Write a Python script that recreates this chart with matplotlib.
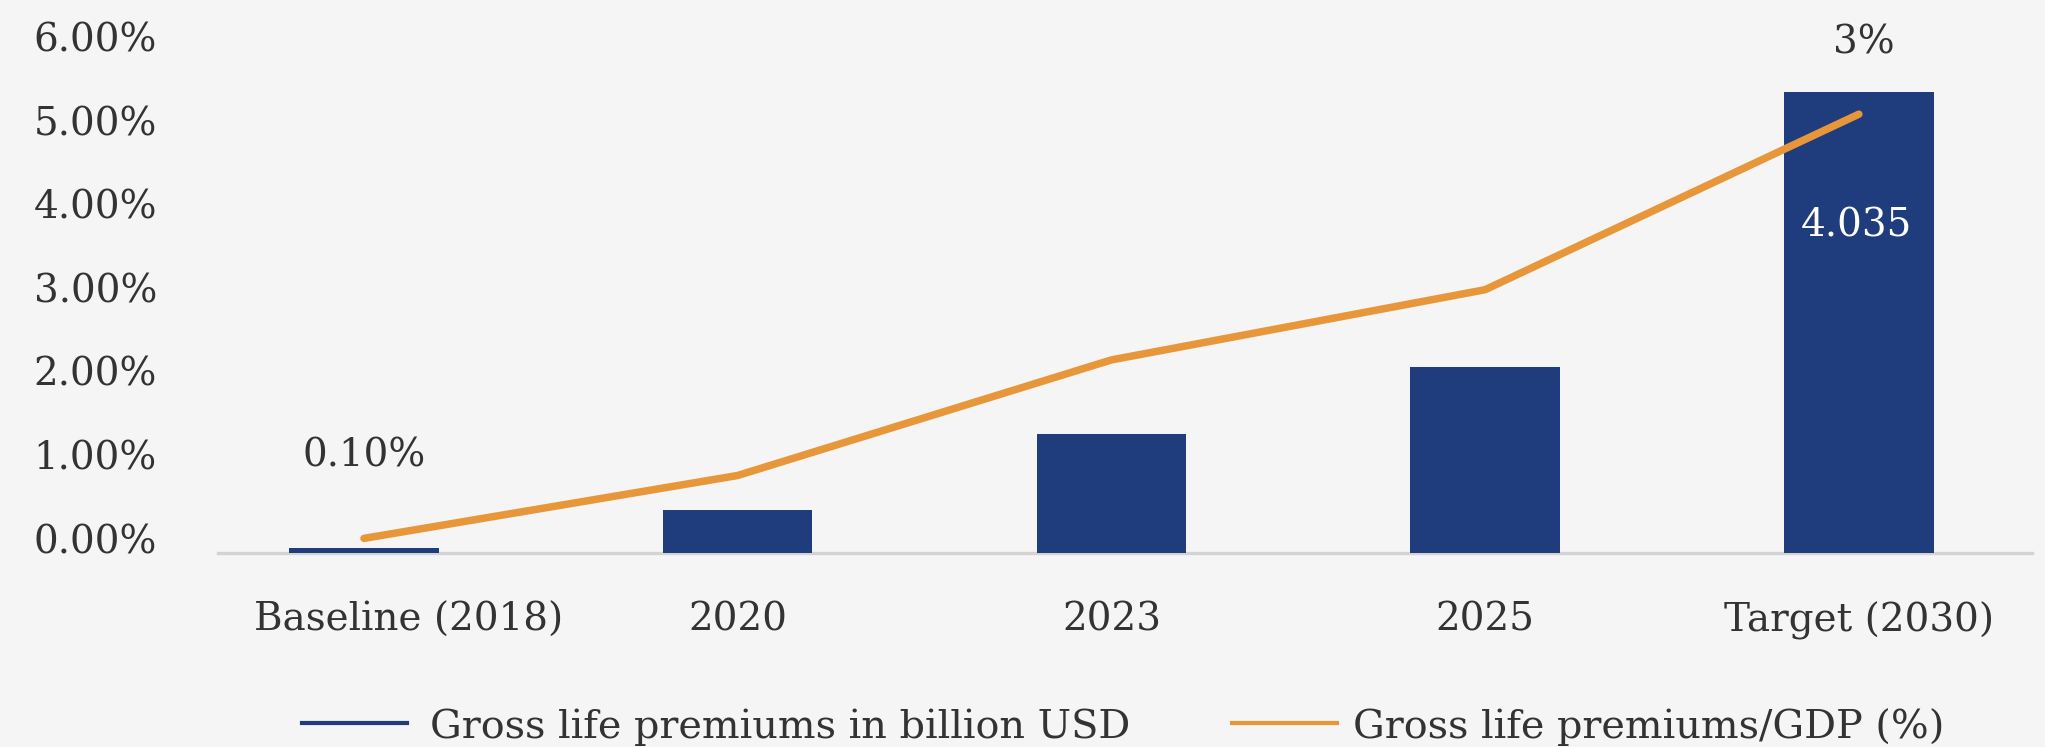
import matplotlib
matplotlib.use("Agg")
import matplotlib.pyplot as plt
from matplotlib.lines import Line2D
from matplotlib.transforms import ScaledTranslation

# ---- data ----
categories = ["Baseline (2018)", "2020", "2023", "2025", "Target (2030)"]
premiums_busd = [0.048, 0.376, 1.042, 1.628, 4.035]      # gross life premiums, billion USD
premiums_gdp_pct = [0.10, 0.53, 1.32, 1.80, 3.00]        # gross life premiums / GDP, %
axis_ticks = [0, 1, 2, 3, 4, 5, 6]
axis_tick_labels = ["0.00%", "1.00%", "2.00%", "3.00%", "4.00%", "5.00%", "6.00%"]
series_names = ["Gross life premiums in billion USD", "Gross life premiums/GDP (%)"]

NAVY = "#1f3d7c"
ORANGE = "#e8963a"
TEXT = "#333333"
BG = "#f5f5f5"
FONT = "DejaVu Serif"
FS = 28

plt.rcParams["font.family"] = FONT

W, H = 2045, 747
fig = plt.figure(figsize=(W / 100, H / 100), dpi=100, facecolor=BG)
ax = fig.add_axes([0.1066, 0.2597, 0.887, 0.6707])
ax.set_facecolor("none")

x = list(range(len(categories)))
ax.set_xlim(-0.3906, 4.463)
ax.set_ylim(0, 6)

# visible percentage scale
ax.set_yticks(axis_ticks)
ax.set_yticklabels(axis_tick_labels, fontsize=FS, color=TEXT)
for lbl in ax.get_yticklabels():
    lbl.set_va("baseline")
    lbl.set_transform(lbl.get_transform() + ScaledTranslation(0, -0.05, fig.dpi_scale_trans))
ax.tick_params(axis="y", length=0, pad=44)

ax.set_xticks(x)
ax.set_xticklabels(categories, fontsize=FS, color=TEXT)
ax.tick_params(axis="x", length=0, pad=35)
first = ax.get_xticklabels()[0]
first.set_transform(first.get_transform() + ScaledTranslation(0.45, 0, fig.dpi_scale_trans))

for side in ("top", "right", "left"):
    ax.spines[side].set_visible(False)
ax.spines["bottom"].set_color("#d3d3d3")
ax.spines["bottom"].set_linewidth(2.4)

# bars on their own scale
axb = ax.twinx()
axb.set_xlim(ax.get_xlim())
axb.set_ylim(0, 4.385)
axb.bar(x, premiums_busd, width=0.40, color=NAVY, zorder=2)
axb.set_axis_off()

# premium/GDP line on its own scale
axl = ax.twinx()
axl.set_xlim(ax.get_xlim())
axl.set_ylim(0, 3.425)
axl.plot(x, premiums_gdp_pct, color=ORANGE, lw=5.4, solid_capstyle="round",
         solid_joinstyle="round", zorder=3)
axl.set_axis_off()

# data labels
axl.annotate(f"{premiums_gdp_pct[0]:.2f}%", (x[0], premiums_gdp_pct[0]),
             xytext=(0, 82), textcoords="offset pixels", ha="center", va="center",
             fontsize=FS, color=TEXT)
axl.annotate(f"{premiums_gdp_pct[-1]:.0f}%", (x[-1], premiums_gdp_pct[-1]),
             xytext=(5, 71), textcoords="offset pixels", ha="center", va="center",
             fontsize=FS, color=TEXT)
axb.annotate(f"{premiums_busd[-1]:.3f}", (x[-1], premiums_busd[-1]),
             xytext=(-2, -134), textcoords="offset pixels", ha="center", va="center",
             fontsize=FS, color="white")

# legend, laid out in figure pixels
legend_y = (H - 723) / H
legend_items = [(302, 407, 430, NAVY), (1232, 1337, 1353, ORANGE)]
for name, (x0, x1, tx, col) in zip(series_names, legend_items):
    fig.add_artist(Line2D([x0 / W, x1 / W], [legend_y, legend_y], color=col, lw=3,
                          transform=fig.transFigure))
    fig.text(tx / W, legend_y, name, fontsize=28.6, color=TEXT, ha="left", va="center_baseline")

fig.savefig("out.png", dpi=100, facecolor=BG)
